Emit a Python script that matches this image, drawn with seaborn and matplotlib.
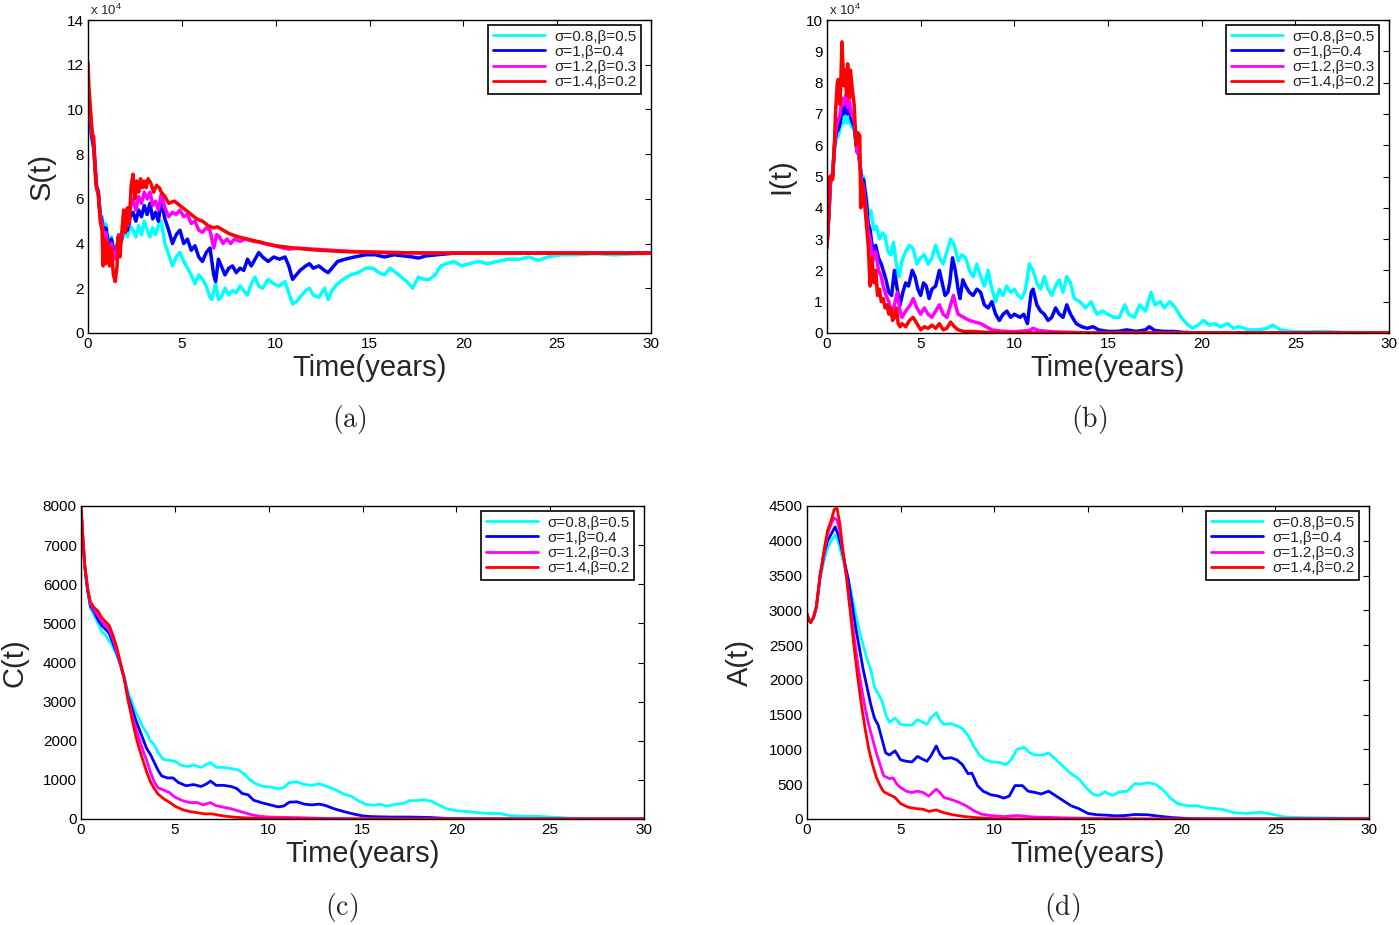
import numpy as np
import pandas as pd
import matplotlib
matplotlib.use('Agg')
import matplotlib.pyplot as plt
import seaborn as sns

# legend labels and colours (cyan, blue, magenta, red)
labels = ['σ=0.8,β=0.5', 'σ=1,β=0.4', 'σ=1.2,β=0.3', 'σ=1.4,β=0.2']
colors = ['#00FFFF', '#0000FF', '#FF00FF', '#FF0000']
xticks = [0, 5, 10, 15, 20, 25, 30]

# S(t), in units of 10^4, (time, value)
s_cyan = [(0,10.0),(0.1,9.5),(0.2,8.7),(0.3,8.2),(0.45,6.5),(0.55,6.4),(0.65,5.3),(0.75,5.2),(0.85,4.6),(0.95,4.9),(1.1,4.1),(1.25,4.3),(1.4,3.6),(1.55,3.9),(1.65,4.4),(1.8,4.1),(1.95,4.6),(2.1,4.3),(2.25,4.8),(2.4,4.6),(2.55,4.3),(2.7,4.8),(2.85,4.4),(3.0,5.0),(3.15,4.6),(3.3,4.3),(3.45,4.7),(3.6,4.4),(3.75,4.8),(3.9,5.0),(4.1,4.0),(4.3,3.5),(4.5,3.0),(4.7,3.4),(4.9,3.6),(5.1,3.2),(5.3,2.9),(5.5,2.6),(5.7,2.2),(5.9,2.6),(6.1,2.4),(6.3,2.1),(6.5,1.6),(6.6,1.5),(6.8,2.2),(6.95,1.5),(7.1,1.6),(7.3,2.0),(7.5,1.7),(7.7,1.9),(7.9,1.8),(8.1,2.1),(8.3,1.9),(8.5,1.7),(8.7,2.2),(8.9,2.5),(9.1,2.1),(9.3,2.0),(9.6,2.4),(9.9,2.2),(10.2,2.1),(10.5,2.3),(10.7,1.8),(10.9,1.3),(11.1,1.4),(11.3,1.6),(11.6,1.9),(11.8,2.0),(12.0,1.7),(12.3,1.6),(12.6,2.0),(12.8,1.5),(13.0,1.9),(13.3,2.2),(13.6,2.4),(14.0,2.6),(14.4,2.7),(14.8,2.9),(15.2,2.9),(15.5,2.7),(15.8,2.6),(16.1,2.9),(16.4,2.7),(16.7,2.5),(17.0,2.3),(17.3,2.0),(17.6,2.5),(17.9,2.4),(18.2,2.4),(18.5,2.6),(18.8,3.0),(19.1,3.1),(19.5,3.2),(19.9,3.0),(20.3,3.1),(20.8,3.2),(21.3,3.1),(21.8,3.2),(22.4,3.3),(23.0,3.3),(23.5,3.4),(24.0,3.25),(24.5,3.4),(25.2,3.5),(26,3.5),(27,3.55),(28,3.5),(30,3.57)]
s_blue = [(0,10.0),(0.1,9.6),(0.2,8.8),(0.3,8.3),(0.45,6.6),(0.55,6.3),(0.65,5.3),(0.75,5.0),(0.85,4.4),(0.95,4.7),(1.1,3.9),(1.25,4.2),(1.4,3.5),(1.55,3.9),(1.65,4.4),(1.8,4.2),(1.95,5.0),(2.1,4.6),(2.25,5.2),(2.4,5.4),(2.55,5.0),(2.7,5.5),(2.85,5.2),(3.0,5.7),(3.15,5.3),(3.3,5.8),(3.45,5.1),(3.6,5.4),(3.75,5.0),(3.9,5.9),(4.1,5.1),(4.3,4.6),(4.5,4.0),(4.7,4.4),(4.9,4.6),(5.1,4.0),(5.3,4.2),(5.5,3.7),(5.7,3.9),(5.9,3.4),(6.1,3.2),(6.3,3.6),(6.5,3.8),(6.7,2.6),(6.8,2.3),(6.95,3.3),(7.1,3.0),(7.3,2.6),(7.5,2.9),(7.7,3.0),(7.9,2.7),(8.1,2.9),(8.3,2.8),(8.5,3.3),(8.7,3.0),(8.9,3.3),(9.1,3.6),(9.3,3.4),(9.6,3.2),(9.9,3.4),(10.2,3.3),(10.5,3.4),(10.7,3.0),(10.9,2.4),(11.1,2.6),(11.3,2.8),(11.6,3.0),(11.8,3.1),(12.0,2.9),(12.3,3.0),(12.6,2.8),(12.8,2.7),(13.0,2.9),(13.3,3.2),(13.7,3.3),(14.2,3.4),(14.8,3.5),(15.3,3.5),(15.8,3.4),(16.3,3.5),(16.8,3.45),(17.3,3.4),(17.6,3.35),(18.0,3.45),(18.6,3.5),(19.5,3.57),(21,3.58),(25,3.58),(30,3.58)]
s_magenta = [(0,10.8),(0.1,10.0),(0.2,9.0),(0.3,8.5),(0.45,6.6),(0.55,6.2),(0.65,5.2),(0.75,4.9),(0.85,4.2),(0.95,4.5),(1.1,3.6),(1.25,4.0),(1.4,3.3),(1.55,3.8),(1.65,4.4),(1.8,4.2),(1.95,5.3),(2.1,4.8),(2.25,5.6),(2.4,6.0),(2.55,5.5),(2.7,6.1),(2.85,5.8),(3.0,6.3),(3.15,6.0),(3.3,6.3),(3.45,5.7),(3.6,5.9),(3.75,5.5),(3.9,6.2),(4.1,5.6),(4.3,5.2),(4.5,5.4),(4.7,5.3),(4.9,5.5),(5.1,5.2),(5.3,5.3),(5.5,4.9),(5.7,5.0),(5.9,4.6),(6.1,4.5),(6.3,4.7),(6.5,4.6),(6.7,3.8),(6.85,4.4),(7.0,4.3),(7.2,4.0),(7.4,4.2),(7.6,4.0),(7.8,4.2),(8.1,4.1),(8.4,4.2),(8.8,4.1),(9.2,4.05),(9.6,3.95),(10.0,3.9),(10.4,3.8),(10.7,3.75),(11.2,3.8),(12,3.75),(13,3.7),(14,3.65),(16,3.6),(18,3.58),(20,3.57),(25,3.57),(30,3.57)]
s_red = [(0,12.1),(0.05,11.0),(0.15,9.8),(0.25,8.7),(0.3,8.8),(0.4,7.0),(0.45,6.5),(0.55,6.2),(0.65,5.0),(0.75,4.6),(0.8,3.0),(0.9,4.2),(0.95,3.1),(1.05,4.0),(1.15,3.0),(1.25,3.8),(1.35,2.6),(1.45,2.3),(1.55,3.0),(1.6,4.3),(1.7,3.4),(1.8,4.5),(1.9,5.5),(2.0,4.5),(2.1,5.6),(2.2,4.9),(2.3,6.6),(2.4,7.1),(2.5,6.0),(2.6,6.8),(2.7,6.3),(2.8,6.9),(2.9,6.5),(3.0,6.8),(3.1,6.5),(3.2,6.9),(3.35,6.7),(3.5,6.3),(3.65,6.6),(3.8,6.5),(3.9,6.3),(4.1,6.1),(4.3,5.8),(4.6,5.9),(4.9,5.7),(5.2,5.5),(5.5,5.3),(5.8,5.1),(6.1,5.0),(6.4,4.8),(6.7,4.7),(6.9,4.75),(7.2,4.6),(7.5,4.45),(8,4.3),(8.5,4.2),(9,4.1),(9.5,4.0),(10,3.9),(11,3.8),(12,3.72),(13,3.67),(14,3.63),(16,3.6),(18,3.58),(20,3.57),(25,3.57),(30,3.57)]

# I(t), in units of 10^4
i_cyan = [(0,2.8),(0.1,3.7),(0.2,4.8),(0.3,5.0),(0.4,5.8),(0.5,6.2),(0.6,6.3),(0.7,6.5),(0.8,6.9),(0.9,6.7),(1.0,7.0),(1.1,6.7),(1.2,6.9),(1.3,6.6),(1.45,6.5),(1.6,5.8),(1.7,5.7),(1.85,5.0),(1.95,5.0),(2.1,4.4),(2.2,3.8),(2.35,3.9),(2.5,3.3),(2.65,3.4),(2.8,3.0),(2.95,3.2),(3.1,3.1),(3.25,2.6),(3.4,2.5),(3.55,2.9),(3.7,2.2),(3.85,1.8),(4.0,2.3),(4.2,2.6),(4.4,2.8),(4.6,2.7),(4.8,2.2),(5.0,2.4),(5.2,2.5),(5.4,2.2),(5.6,2.4),(5.8,2.8),(6.0,2.4),(6.2,2.2),(6.4,2.6),(6.6,3.0),(6.8,2.8),(7.0,2.3),(7.2,2.5),(7.4,2.4),(7.6,2.0),(7.8,1.8),(8.0,2.2),(8.2,1.8),(8.4,1.5),(8.6,2.0),(8.8,1.4),(9.0,1.0),(9.2,1.4),(9.4,1.2),(9.6,1.5),(9.8,1.3),(10.0,1.4),(10.2,1.2),(10.4,1.1),(10.6,1.4),(10.8,2.2),(11.0,2.0),(11.2,1.6),(11.4,1.4),(11.6,1.8),(11.8,1.4),(12.0,1.2),(12.2,1.5),(12.4,1.7),(12.6,1.3),(12.8,1.8),(13.0,1.6),(13.2,1.1),(13.5,1.0),(13.8,0.8),(14.1,1.0),(14.4,0.6),(14.7,0.7),(15.0,0.6),(15.3,0.5),(15.6,0.5),(15.9,0.9),(16.1,0.6),(16.4,0.5),(16.7,0.9),(17.0,0.7),(17.3,1.3),(17.5,0.9),(17.8,1.0),(18.0,0.8),(18.3,1.0),(18.6,0.8),(18.9,0.5),(19.2,0.3),(19.5,0.15),(19.8,0.25),(20.1,0.4),(20.4,0.25),(20.7,0.3),(21.0,0.2),(21.4,0.3),(21.7,0.15),(22.0,0.2),(22.5,0.1),(23.0,0.1),(23.5,0.15),(23.8,0.25),(24.2,0.1),(24.8,0.05),(25.5,0.03),(26.5,0.05),(27.5,0.02),(29,0.01),(30,0.01)]
i_blue = [(0,2.8),(0.1,3.8),(0.2,5.0),(0.3,5.0),(0.4,6.0),(0.5,6.4),(0.6,6.5),(0.7,6.7),(0.8,7.2),(0.9,7.0),(1.0,7.3),(1.1,7.0),(1.2,7.2),(1.3,6.8),(1.45,6.6),(1.6,5.8),(1.7,5.7),(1.85,4.9),(1.95,4.9),(2.1,4.2),(2.2,3.5),(2.3,3.3),(2.45,2.6),(2.6,2.8),(2.75,2.4),(2.9,2.2),(3.0,2.0),(3.15,1.7),(3.3,1.3),(3.45,1.2),(3.6,2.0),(3.75,1.4),(3.9,0.9),(4.05,1.3),(4.2,1.6),(4.35,1.5),(4.55,2.0),(4.7,1.8),(4.85,1.4),(5.0,1.2),(5.15,1.6),(5.3,1.5),(5.45,1.1),(5.6,1.4),(5.8,1.5),(6.0,2.0),(6.15,1.6),(6.3,1.2),(6.45,1.3),(6.55,1.6),(6.7,2.4),(6.85,2.0),(7.0,1.4),(7.1,1.1),(7.25,1.7),(7.4,1.5),(7.6,1.3),(7.8,1.2),(8.0,1.4),(8.2,1.3),(8.4,0.9),(8.6,0.8),(8.8,1.0),(9.0,0.6),(9.2,0.4),(9.4,0.6),(9.6,0.7),(9.8,0.5),(10.0,0.6),(10.3,0.5),(10.5,0.6),(10.7,0.3),(10.9,1.3),(11.0,1.4),(11.2,0.9),(11.4,0.7),(11.6,0.6),(11.8,0.4),(12.0,0.5),(12.2,0.8),(12.4,0.6),(12.6,0.5),(12.8,0.9),(13.0,0.6),(13.3,0.3),(13.6,0.2),(13.9,0.15),(14.2,0.2),(14.5,0.1),(15,0.05),(15.5,0.05),(16,0.1),(16.5,0.05),(17.0,0.1),(17.2,0.2),(17.5,0.08),(18,0.05),(18.5,0.05),(19,0.02),(20,0.0),(30,0.0)]
i_magenta = [(0,2.8),(0.1,3.8),(0.2,5.0),(0.3,5.1),(0.4,6.0),(0.5,6.6),(0.6,6.8),(0.7,7.0),(0.8,7.5),(0.9,7.3),(1.0,7.6),(1.1,7.2),(1.2,7.4),(1.3,7.0),(1.45,6.8),(1.6,5.8),(1.7,5.7),(1.85,4.8),(1.95,4.7),(2.1,3.8),(2.2,3.2),(2.3,3.0),(2.45,2.3),(2.6,2.6),(2.75,2.0),(2.9,1.8),(3.0,1.5),(3.15,1.2),(3.3,1.0),(3.45,0.6),(3.6,0.9),(3.75,1.3),(3.9,0.7),(4.0,0.5),(4.2,0.7),(4.45,0.9),(4.6,1.1),(4.8,0.8),(5.0,0.6),(5.2,0.8),(5.4,0.6),(5.6,0.5),(5.8,0.7),(6.0,0.9),(6.2,0.6),(6.4,0.5),(6.6,0.9),(6.75,1.2),(6.9,0.8),(7.0,0.6),(7.3,0.5),(7.6,0.4),(7.9,0.35),(8.2,0.3),(8.5,0.2),(8.8,0.1),(9.3,0.06),(10,0.04),(10.8,0.08),(11.0,0.15),(11.3,0.08),(12,0.04),(13,0.02),(14,0.0),(30,0.0)]
i_red = [(0,2.7),(0.1,3.9),(0.15,5.0),(0.25,5.0),(0.3,4.9),(0.4,6.1),(0.45,7.0),(0.55,8.0),(0.6,8.1),(0.7,7.3),(0.8,9.3),(0.9,7.9),(0.95,8.4),(1.05,7.6),(1.1,8.6),(1.2,7.5),(1.25,8.4),(1.35,7.8),(1.45,7.3),(1.55,6.0),(1.65,6.4),(1.75,6.3),(1.8,4.0),(1.9,4.8),(2.0,4.2),(2.1,3.5),(2.2,2.8),(2.3,1.5),(2.4,2.4),(2.5,1.6),(2.6,2.0),(2.7,1.2),(2.8,1.4),(2.9,1.0),(3.0,1.1),(3.1,0.8),(3.2,0.9),(3.3,0.6),(3.4,0.8),(3.5,0.4),(3.6,0.5),(3.7,0.8),(3.8,0.3),(3.9,0.2),(4.0,0.3),(4.2,0.2),(4.4,0.4),(4.6,0.5),(4.8,0.3),(5.0,0.1),(5.2,0.2),(5.4,0.15),(5.6,0.25),(5.8,0.15),(6.0,0.3),(6.2,0.1),(6.4,0.15),(6.6,0.35),(6.8,0.2),(7.0,0.1),(7.3,0.05),(7.8,0.05),(8.5,0.02),(10,0.0),(30,0.0)]

# C(t)
c_cyan = [(0,8000),(0.1,7100),(0.2,6400),(0.35,5800),(0.5,5400),(0.7,5200),(0.9,5000),(1.1,4800),(1.3,4700),(1.5,4550),(1.7,4400),(1.9,4200),(2.1,3950),(2.3,3650),(2.5,3250),(2.7,3000),(2.9,2750),(3.1,2550),(3.3,2350),(3.5,2200),(3.7,2000),(3.9,1900),(4.1,1700),(4.4,1520),(4.7,1500),(5.0,1480),(5.3,1380),(5.7,1340),(6.0,1380),(6.4,1320),(6.7,1400),(6.9,1440),(7.2,1320),(7.6,1320),(8.0,1290),(8.4,1250),(8.7,1150),(9.0,1000),(9.3,900),(9.7,830),(10.1,820),(10.5,770),(10.8,800),(11.1,930),(11.5,950),(11.9,880),(12.3,860),(12.7,900),(13.1,830),(13.5,760),(14.0,640),(14.4,580),(14.8,460),(15.2,370),(15.6,350),(15.9,380),(16.3,330),(16.8,380),(17.2,400),(17.5,470),(17.9,470),(18.3,490),(18.7,450),(19.1,350),(19.5,260),(20.0,210),(20.6,190),(21.2,160),(21.8,140),(22.3,140),(22.8,90),(23.5,70),(24.2,70),(25,50),(26,25),(27,15),(30,10)]
c_blue = [(0,8000),(0.1,7150),(0.2,6450),(0.35,5850),(0.5,5450),(0.7,5300),(0.9,5100),(1.1,4950),(1.3,4850),(1.5,4750),(1.7,4500),(1.9,4250),(2.1,3950),(2.3,3600),(2.5,3150),(2.7,2850),(2.9,2550),(3.1,2300),(3.3,2050),(3.5,1800),(3.7,1650),(3.9,1450),(4.1,1250),(4.3,1100),(4.6,1050),(4.9,1050),(5.2,930),(5.6,850),(6.0,880),(6.4,830),(6.7,900),(6.9,970),(7.2,860),(7.6,860),(8.0,830),(8.3,780),(8.6,650),(8.9,620),(9.2,480),(9.6,420),(10.0,370),(10.5,310),(10.8,330),(11.1,430),(11.5,440),(11.9,380),(12.3,360),(12.7,380),(13.0,350),(13.5,260),(14.0,190),(14.5,130),(15.0,80),(15.5,60),(16.5,50),(17.5,50),(18.5,40),(19.5,15),(21,5),(24,0),(30,0)]
c_magenta = [(0,8000),(0.1,7200),(0.2,6500),(0.35,5900),(0.5,5500),(0.7,5350),(0.9,5200),(1.1,5050),(1.3,4950),(1.5,4850),(1.7,4600),(1.9,4300),(2.1,3950),(2.3,3600),(2.5,3100),(2.7,2700),(2.9,2350),(3.1,2050),(3.3,1750),(3.5,1500),(3.7,1200),(3.9,950),(4.1,800),(4.4,740),(4.7,680),(5.0,560),(5.4,470),(5.8,420),(6.2,420),(6.5,360),(6.9,420),(7.2,340),(7.6,300),(8.0,260),(8.5,190),(9.0,120),(9.5,70),(10,50),(11,40),(12,30),(13,15),(15,5),(18,0),(30,0)]
c_red = [(0,8000),(0.1,7200),(0.2,6500),(0.35,5900),(0.5,5550),(0.7,5400),(0.9,5320),(1.1,5150),(1.3,5050),(1.5,4950),(1.7,4700),(1.9,4400),(2.1,4000),(2.3,3600),(2.5,3050),(2.7,2600),(2.9,2150),(3.1,1800),(3.3,1500),(3.5,1200),(3.7,950),(3.9,780),(4.1,640),(4.4,520),(4.7,430),(5.0,330),(5.4,240),(5.8,190),(6.2,160),(6.6,130),(7.0,130),(7.3,100),(7.7,70),(8.2,45),(9,25),(10,10),(12,3),(15,0),(30,0)]

# A(t)
a_cyan = [(0,2950),(0.1,2860),(0.2,2850),(0.35,2900),(0.5,3050),(0.7,3450),(0.9,3700),(1.1,3900),(1.3,4000),(1.5,4080),(1.65,4000),(1.8,3850),(2.0,3650),(2.2,3450),(2.4,3200),(2.6,2950),(2.8,2700),(3.0,2500),(3.2,2300),(3.4,2150),(3.6,1900),(3.8,1800),(4.0,1700),(4.2,1500),(4.4,1390),(4.7,1450),(5.0,1360),(5.3,1350),(5.6,1350),(5.9,1430),(6.1,1400),(6.4,1360),(6.6,1450),(6.9,1530),(7.1,1420),(7.3,1360),(7.7,1370),(8.0,1340),(8.3,1300),(8.6,1200),(8.9,1050),(9.2,920),(9.5,850),(9.9,820),(10.3,810),(10.6,780),(10.9,850),(11.2,1000),(11.6,1030),(11.9,950),(12.2,920),(12.6,920),(12.9,950),(13.3,850),(13.7,750),(14.1,650),(14.5,580),(14.9,450),(15.3,350),(15.6,340),(15.9,390),(16.3,340),(16.7,390),(17.1,400),(17.5,510),(17.8,500),(18.2,520),(18.6,500),(19.0,420),(19.4,300),(19.8,220),(20.3,190),(20.8,190),(21.3,160),(21.8,150),(22.3,130),(22.8,90),(23.5,80),(24.2,95),(24.8,70),(25.5,30),(26.5,20),(28,15),(30,10)]
a_blue = [(0,2950),(0.1,2860),(0.2,2840),(0.35,2900),(0.5,3050),(0.7,3500),(0.9,3800),(1.1,4000),(1.3,4100),(1.5,4200),(1.65,4100),(1.8,3950),(2.0,3700),(2.2,3450),(2.4,3100),(2.6,2750),(2.8,2450),(3.0,2150),(3.2,1900),(3.4,1650),(3.6,1450),(3.8,1350),(4.0,1150),(4.2,950),(4.4,920),(4.7,980),(5.0,850),(5.3,830),(5.6,820),(5.9,900),(6.1,870),(6.4,830),(6.6,900),(6.9,1050),(7.1,930),(7.3,870),(7.7,880),(8.0,850),(8.3,780),(8.6,650),(8.8,660),(9.1,480),(9.4,400),(9.8,350),(10.2,330),(10.5,300),(10.8,330),(11.1,480),(11.5,480),(11.8,400),(12.2,380),(12.5,360),(12.9,400),(13.3,330),(13.7,260),(14.1,190),(14.5,150),(15.0,80),(15.5,60),(16.0,55),(16.5,45),(17.0,50),(17.5,65),(18.2,60),(18.8,40),(19.5,20),(20.5,5),(22,0),(30,0)]
a_magenta = [(0,2950),(0.1,2850),(0.2,2830),(0.35,2900),(0.5,3050),(0.7,3500),(0.9,3800),(1.1,4100),(1.3,4250),(1.45,4330),(1.6,4300),(1.75,4150),(1.9,3850),(2.1,3500),(2.3,3050),(2.5,2650),(2.7,2250),(2.9,1900),(3.1,1600),(3.3,1350),(3.5,1150),(3.7,950),(3.9,780),(4.1,620),(4.4,580),(4.6,590),(4.8,500),(5.0,450),(5.3,400),(5.6,380),(5.9,400),(6.2,380),(6.5,330),(6.7,380),(6.9,430),(7.1,380),(7.3,310),(7.7,280),(8.1,240),(8.5,190),(8.9,120),(9.3,70),(9.8,50),(10.5,35),(11.2,50),(12,30),(14,15),(16,5),(18,0),(30,0)]
a_red = [(0,2950),(0.1,2850),(0.2,2820),(0.35,2900),(0.5,3050),(0.7,3500),(0.9,3850),(1.1,4150),(1.3,4300),(1.45,4450),(1.6,4470),(1.75,4250),(1.9,3900),(2.1,3500),(2.3,3000),(2.5,2500),(2.7,2050),(2.9,1650),(3.1,1300),(3.3,1000),(3.5,780),(3.7,600),(3.9,480),(4.1,390),(4.4,350),(4.7,310),(5.0,220),(5.4,170),(5.8,150),(6.2,140),(6.5,110),(6.9,130),(7.3,90),(7.8,60),(8.4,35),(9,20),(10,5),(12,0),(30,0)]

sns.set_style('white')
plt.rcParams['font.family'] = ['Liberation Sans', 'DejaVu Sans']
plt.rcParams['mathtext.fontset'] = 'cm'

W, H = 1399, 925
fig = plt.figure(figsize=(W / 100, H / 100), dpi=100)


def panel(box, series, yticks, ylabel, lw, ylab_right, sci=False):
    # box is (left, top, right, bottom) in pixels
    l, t, r, b = box
    pw, ph = r - l, b - t
    ax = fig.add_axes([l / W, 1 - b / H, pw / W, ph / H])
    frames = []
    for lab, pts in zip(labels, series):
        tt, vv = zip(*pts)
        frames.append(pd.DataFrame({'t': tt, 'v': vv, 'case': lab}))
    df = pd.concat(frames, ignore_index=True)
    sns.lineplot(data=df, x='t', y='v', hue='case', hue_order=labels,
                 palette=colors, estimator=None, sort=False, lw=lw, ax=ax)
    ax.set_xlim(0, 30)
    ax.set_ylim(yticks[0], yticks[-1])
    ax.set_xticks(xticks)
    ax.set_yticks(yticks)
    ax.tick_params(direction='in', top=True, right=True, length=4, width=0.8,
                   labelsize=11, pad=3, colors='black')
    for sp in ax.spines.values():
        sp.set_color('black')
        sp.set_linewidth(1.0)
    ax.set_xlabel('Time(years)', fontsize=21)
    ax.xaxis.set_label_coords(0.5, -21 / ph)
    ax.set_ylabel(ylabel, fontsize=21)
    ax.yaxis.set_label_coords((ylab_right - l) / pw, 0.5)
    if sci:
        ax.text(0.003, 1.006, r'x 10$\mathregular{^{4}}$', transform=ax.transAxes,
                fontsize=9.5, ha='left', va='bottom')
    leg = ax.legend(loc='upper right', bbox_to_anchor=(1 - 10 / pw, 1 - 5 / ph),
                    fontsize=11, handlelength=3.4, labelspacing=0.08,
                    borderpad=0.3, handletextpad=0.6, borderaxespad=0,
                    frameon=True, fancybox=False, edgecolor='black', framealpha=1)
    leg.get_frame().set_linewidth(1.2)
    for h in leg.get_lines():
        h.set_linewidth(2)
    return ax


panel((88, 20, 651, 333), [s_cyan, s_blue, s_magenta, s_red],
      list(range(0, 15, 2)), 'S(t)', 2.5, 56, sci=True)
panel((827, 20, 1389, 333), [i_cyan, i_blue, i_magenta, i_red],
      list(range(0, 11, 1)), 'I(t)', 2.5, 795, sci=True)
panel((81, 506, 644, 819), [c_cyan, c_blue, c_magenta, c_red],
      list(range(0, 8001, 1000)), 'C(t)', 2.0, 28)
panel((807, 506, 1369, 819), [a_cyan, a_blue, a_magenta, a_red],
      list(range(0, 4501, 500)), 'A(t)', 2.0, 754)

for cap, x, y in [('(a)', 349, 420), ('(b)', 1089, 420), ('(c)', 342, 907), ('(d)', 1062, 907)]:
    fig.text(x / W, 1 - y / H, r'$\mathrm{' + cap + '}$', fontsize=20,
             ha='center', va='center')

fig.savefig('out.png', dpi=100)
